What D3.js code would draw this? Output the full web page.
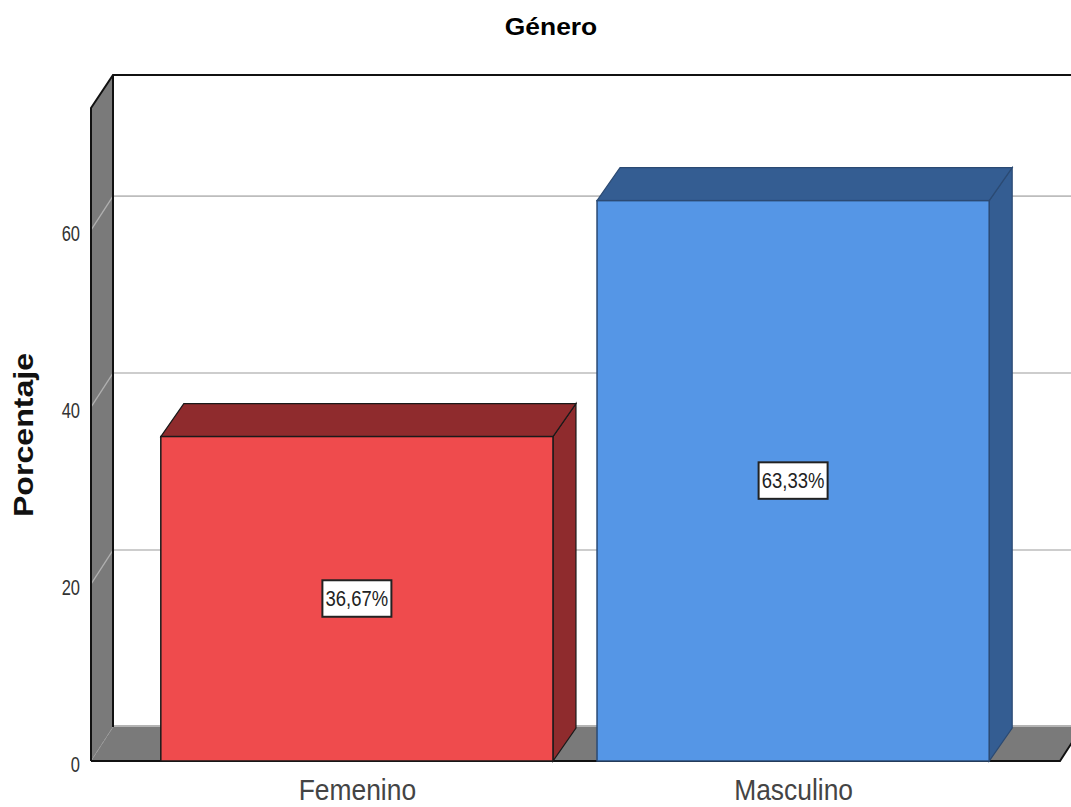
<!DOCTYPE html>
<html><head><meta charset="utf-8">
<script src="https://d3js.org/d3.v7.min.js"></script>
<style>
html,body{margin:0;padding:0;background:#fff;overflow:hidden}
svg{display:block}
text{font-family:"Liberation Sans",Arial,sans-serif}
</style></head><body>
<svg id="c" width="1071" height="807"></svg>
<script>
const categories=["Femenino","Masculino"];
const percentages=[36.67,63.33];
const valueLabels=["36,67%","63,33%"];
const tickValues=[0,20,40,60];
const frontColors=["#ef4b4d","#5596e6"];
const sideColors=["#8f2b2d","#345d92"];
const titleText="Género";
const yTitle="Porcentaje";

const svg=d3.select("#c");
const W=1071,H=807;
const dx=22,dy=-34;
const y=d3.scaleLinear().domain([0,73.8]).range([761,108]);
const x=d3.scaleBand().domain(categories).range([139,1011]).paddingInner(0.101).paddingOuter(0.05);
const left=91,right=1060;
const poly=p=>p.map(d=>d.join(",")).join(" ");

// floor
svg.append("polygon").attr("points",poly([[left,y(0)],[left+dx,y(0)+dy],[right+dx,y(0)+dy],[right,y(0)]])).attr("fill","#7a7a7a");
svg.append("line").attr("x1",left+dx).attr("x2",W).attr("y1",y(0)+dy-1).attr("y2",y(0)+dy-1).attr("stroke","#b4b4b4").attr("stroke-width",2);
// left wall
svg.append("polygon").attr("points",poly([[left,y(73.8)],[left+dx,y(73.8)+dy+1],[left+dx,y(0)+dy],[left,y(0)]])).attr("fill","#7a7a7a");
// gridlines
tickValues.filter(d=>d>0).forEach(t=>{
  svg.append("line").attr("x1",left+dx).attr("x2",W).attr("y1",y(t)+dy).attr("y2",y(t)+dy).attr("stroke","#bdbdbd").attr("stroke-width",1.6);
  svg.append("line").attr("x1",left).attr("x2",left+dx).attr("y1",y(t)).attr("y2",y(t)+dy).attr("stroke","#b0b0b0").attr("stroke-width",1.3);
});
svg.append("line").attr("x1",left).attr("x2",left+dx).attr("y1",y(0)).attr("y2",y(0)+dy).attr("stroke","#9a9a9a").attr("stroke-width",1).attr("stroke-dasharray","3,2");
// frame
svg.append("polyline").attr("points",poly([[left,y(0)],[left,y(73.8)],[left+dx,y(73.8)+dy+1],[W,y(73.8)+dy+1]])).attr("fill","none").attr("stroke","#111").attr("stroke-width",2);
svg.append("line").attr("x1",left+dx).attr("x2",left+dx).attr("y1",y(73.8)+dy+1).attr("y2",y(0)+dy).attr("stroke","#111").attr("stroke-width",2);
svg.append("polyline").attr("points",poly([[left,y(0)],[right,y(0)],[right+dx,y(0)+dy]])).attr("fill","none").attr("stroke","#111").attr("stroke-width",2);

// bars
const bars=svg.selectAll("g.bar").data(categories).join("g").attr("class","bar");
bars.each(function(c,i){
  const g=d3.select(this);
  const x0=x(c),x1=x0+x.bandwidth(),yT=y(percentages[i]),yB=y(0);
  const ddx=dx+1,ddy=dy+1;
  const edge=i===0?"#1a1a1a":"#2b4a73";
  g.append("polygon").attr("points",poly([[x1,yT],[x1+ddx,yT+ddy],[x1+ddx,yB+ddy],[x1,yB]])).attr("fill",sideColors[i]).attr("stroke",edge).attr("stroke-width",1.2);
  g.append("polygon").attr("points",poly([[x0,yT],[x0+ddx,yT+ddy],[x1+ddx,yT+ddy],[x1,yT]])).attr("fill",sideColors[i]).attr("stroke",edge).attr("stroke-width",1.2);
  g.append("rect").attr("x",x0).attr("y",yT).attr("width",x.bandwidth()).attr("height",yB-yT).attr("fill",frontColors[i]).attr("stroke",edge).attr("stroke-width",1.5);
  const cx=(x0+x1)/2,cy=(yT+yB)/2;
  g.append("rect").attr("x",cx-34.5).attr("y",cy-18.5).attr("width",69).attr("height",36.5).attr("fill","#fff").attr("stroke","#222").attr("stroke-width",2);
  g.append("text").attr("transform",`translate(${cx},${cy+7}) scale(0.84,1)`).attr("text-anchor","middle").attr("font-size",22).attr("fill","#222").text(valueLabels[i]);
});

// y tick labels
svg.selectAll("text.yt").data(tickValues).join("text").attr("class","yt")
  .attr("transform",d=>`translate(80,${y(d)+11}) scale(0.75,1)`).attr("text-anchor","end").attr("font-size",22).attr("fill","#333").text(d=>d);
// category labels
svg.selectAll("text.xt").data(categories).join("text").attr("class","xt")
  .attr("transform",c=>`translate(${x(c)+x.bandwidth()/2+0.5},800) scale(0.88,1)`).attr("text-anchor","middle").attr("font-size",30).attr("fill","#444").text(c=>c);
// titles
svg.append("text").attr("transform","translate(551,35) scale(1.1,1)").attr("text-anchor","middle").attr("font-size",24).attr("font-weight","bold").attr("fill","#000").text(titleText);
svg.append("text").attr("transform","translate(33,435) rotate(-90) scale(1.19,1)").attr("text-anchor","middle").attr("font-size",27).attr("font-weight","bold").attr("fill","#111").text(yTitle);
</script>
</body></html>
